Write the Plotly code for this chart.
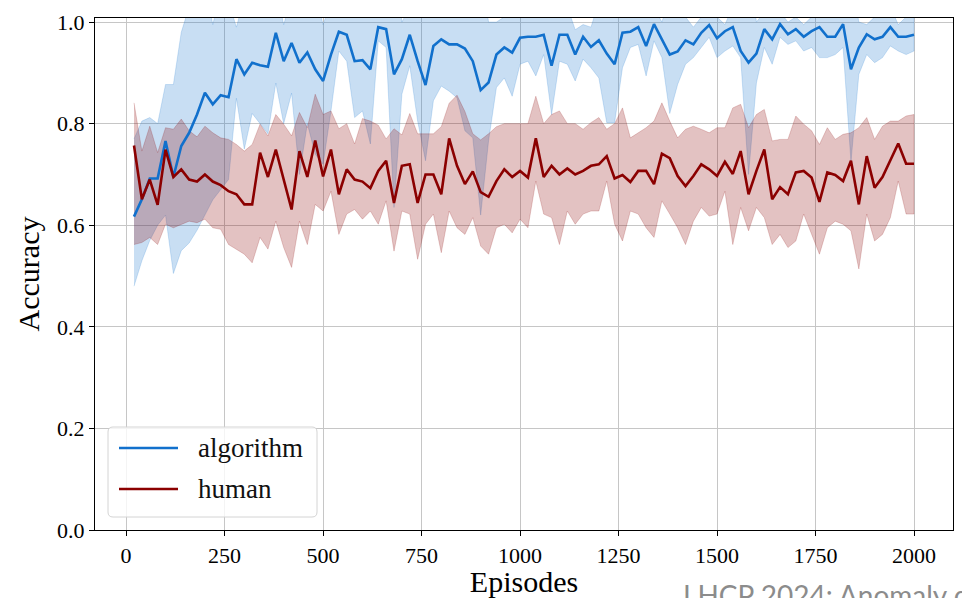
import plotly.graph_objects as go

# Training episodes (evaluated every 20 episodes)
episodes = list(range(20, 2001, 20))

# Mean accuracy of the learned algorithm
algorithm_mean = [
    0.617, 0.651, 0.692, 0.692, 0.766, 0.695, 0.756, 0.782, 0.818, 0.861,
    0.838, 0.856, 0.852, 0.927, 0.897, 0.920, 0.915, 0.912, 0.979, 0.923,
    0.959, 0.920, 0.940, 0.907, 0.884, 0.936, 0.981, 0.975, 0.923, 0.925,
    0.907, 0.990, 0.986, 0.897, 0.927, 0.975, 0.923, 0.876, 0.953, 0.966,
    0.956, 0.956, 0.948, 0.923, 0.866, 0.881, 0.936, 0.950, 0.940, 0.969,
    0.971, 0.971, 0.975, 0.914, 0.975, 0.975, 0.936, 0.971, 0.951, 0.964,
    0.938, 0.917, 0.979, 0.981, 0.990, 0.953, 0.996, 0.966, 0.936, 0.942,
    0.964, 0.956, 0.979, 0.994, 0.968, 0.982, 0.990, 0.943, 0.920, 0.938,
    0.986, 0.966, 0.996, 0.976, 0.986, 0.971, 0.982, 0.990, 0.971, 0.971,
    0.996, 0.907, 0.950, 0.976, 0.966, 0.971, 0.990, 0.971, 0.971, 0.975,
]
algorithm_low = [
    0.480, 0.530, 0.570, 0.600, 0.620, 0.505, 0.550, 0.565, 0.590, 0.620,
    0.650, 0.670, 0.690, 0.850, 0.750, 0.820, 0.800, 0.780, 0.880, 0.800,
    0.860, 0.700, 0.800, 0.740, 0.720, 0.825, 0.943, 0.923, 0.812, 0.825,
    0.760, 0.963, 0.950, 0.635, 0.858, 0.914, 0.805, 0.727, 0.845, 0.874,
    0.864, 0.851, 0.786, 0.772, 0.620, 0.766, 0.871, 0.890, 0.854, 0.917,
    0.923, 0.894, 0.936, 0.818, 0.923, 0.917, 0.884, 0.927, 0.910, 0.890,
    0.802, 0.802, 0.910, 0.950, 0.956, 0.894, 0.963, 0.930, 0.820, 0.877,
    0.917, 0.930, 0.950, 0.970, 0.930, 0.943, 0.953, 0.930, 0.700, 0.880,
    0.950, 0.917, 0.970, 0.956, 0.963, 0.943, 0.950, 0.930, 0.930, 0.936,
    0.950, 0.725, 0.897, 0.936, 0.920, 0.930, 0.953, 0.943, 0.936, 0.943,
]
algorithm_high = [
    0.770, 0.805, 0.812, 0.800, 0.877, 0.877, 0.980, 1.030, 1.050, 1.080,
    0.995, 1.060, 1.040, 0.990, 1.050, 1.030, 1.040, 1.050, 1.070, 0.995,
    1.050, 1.090, 1.070, 1.060, 0.995, 1.040, 1.020, 1.030, 1.030, 1.025,
    1.050, 1.020, 1.020, 1.150, 1.000, 1.030, 1.040, 1.030, 1.060, 1.060,
    1.050, 1.060, 1.110, 1.070, 1.110, 1.000, 1.000, 1.010, 1.030, 1.020,
    1.020, 1.050, 1.010, 1.010, 1.030, 1.030, 0.985, 0.995, 0.990, 1.040,
    1.070, 1.030, 1.050, 1.010, 1.020, 1.010, 1.030, 1.000, 1.050, 1.010,
    1.010, 0.990, 1.010, 1.020, 1.010, 0.995, 1.030, 1.020, 1.140, 1.000,
    1.020, 1.020, 1.020, 1.000, 1.010, 0.995, 1.010, 1.050, 1.010, 1.010,
    1.040, 1.090, 1.000, 0.995, 1.010, 1.010, 1.030, 0.995, 1.010, 1.010,
]

# Mean accuracy of the human baseline
human_mean = [
    0.757, 0.651, 0.690, 0.640, 0.749, 0.695, 0.710, 0.690, 0.686, 0.700,
    0.686, 0.679, 0.667, 0.661, 0.641, 0.641, 0.743, 0.695, 0.749, 0.687,
    0.631, 0.746, 0.695, 0.767, 0.696, 0.749, 0.661, 0.710, 0.690, 0.686,
    0.673, 0.707, 0.727, 0.644, 0.717, 0.720, 0.644, 0.700, 0.700, 0.661,
    0.771, 0.717, 0.681, 0.706, 0.665, 0.656, 0.687, 0.710, 0.695, 0.707,
    0.694, 0.771, 0.695, 0.717, 0.700, 0.712, 0.700, 0.707, 0.717, 0.720,
    0.736, 0.692, 0.699, 0.685, 0.707, 0.707, 0.681, 0.741, 0.732, 0.697,
    0.677, 0.697, 0.720, 0.710, 0.697, 0.725, 0.701, 0.746, 0.661, 0.707,
    0.749, 0.651, 0.675, 0.661, 0.704, 0.707, 0.694, 0.646, 0.704, 0.699,
    0.687, 0.727, 0.641, 0.736, 0.674, 0.695, 0.727, 0.761, 0.721, 0.721,
]
human_low = [
    0.562, 0.566, 0.576, 0.562, 0.602, 0.595, 0.602, 0.608, 0.605, 0.612,
    0.595, 0.592, 0.562, 0.553, 0.543, 0.526, 0.576, 0.553, 0.608, 0.556,
    0.517, 0.608, 0.562, 0.641, 0.628, 0.667, 0.582, 0.622, 0.631, 0.612,
    0.628, 0.602, 0.648, 0.549, 0.628, 0.622, 0.533, 0.602, 0.622, 0.546,
    0.628, 0.595, 0.582, 0.615, 0.559, 0.543, 0.595, 0.602, 0.585, 0.612,
    0.595, 0.687, 0.622, 0.615, 0.562, 0.628, 0.602, 0.622, 0.628, 0.628,
    0.687, 0.602, 0.569, 0.628, 0.622, 0.595, 0.576, 0.648, 0.622, 0.595,
    0.562, 0.608, 0.635, 0.618, 0.622, 0.667, 0.562, 0.635, 0.589, 0.635,
    0.615, 0.562, 0.582, 0.556, 0.569, 0.622, 0.582, 0.543, 0.595, 0.608,
    0.602, 0.589, 0.514, 0.622, 0.569, 0.582, 0.615, 0.687, 0.622, 0.622,
]
human_high = [
    0.841, 0.746, 0.795, 0.743, 0.792, 0.789, 0.809, 0.786, 0.774, 0.795,
    0.782, 0.772, 0.769, 0.759, 0.746, 0.759, 0.799, 0.776, 0.818, 0.799,
    0.776, 0.822, 0.792, 0.858, 0.818, 0.825, 0.790, 0.800, 0.760, 0.810,
    0.805, 0.797, 0.770, 0.790, 0.778, 0.820, 0.780, 0.780, 0.780, 0.794,
    0.840, 0.856, 0.824, 0.780, 0.768, 0.780, 0.794, 0.800, 0.800, 0.800,
    0.800, 0.854, 0.800, 0.818, 0.825, 0.800, 0.800, 0.789, 0.802, 0.812,
    0.789, 0.800, 0.831, 0.772, 0.782, 0.792, 0.805, 0.841, 0.805, 0.772,
    0.789, 0.795, 0.789, 0.782, 0.792, 0.792, 0.831, 0.838, 0.792, 0.818,
    0.828, 0.766, 0.769, 0.769, 0.815, 0.799, 0.786, 0.759, 0.792, 0.769,
    0.779, 0.782, 0.792, 0.812, 0.769, 0.795, 0.805, 0.805, 0.815, 0.818,
]

x_ticks = [0, 250, 500, 750, 1000, 1250, 1500, 1750, 2000]
y_ticks = [0.0, 0.2, 0.4, 0.6, 0.8, 1.0]

series = [
    ("algorithm", algorithm_mean, algorithm_low, algorithm_high, "#1170cc", "rgba(17,112,204,0.23)"),
    ("human", human_mean, human_low, human_high, "#8b0000", "rgba(139,0,0,0.24)"),
]

W, H = 962, 598
M = dict(l=95, r=9, t=18, b=68)
SERIF = "Liberation Serif, Times New Roman, serif"


def px_x(p):
    return (p - M["l"]) / (W - M["l"] - M["r"])


def px_y(p):
    return (H - M["b"] - p) / (H - M["t"] - M["b"])


fig = go.Figure()

# shaded spread bands
for name, mean, low, high, line_c, fill_c in series:
    fig.add_trace(go.Scatter(
        x=episodes + episodes[::-1],
        y=high + low[::-1],
        fill="toself",
        fillcolor=fill_c,
        line=dict(color=fill_c, width=0.8),
        mode="lines",
        hoverinfo="skip",
        showlegend=False,
    ))

# mean curves
for name, mean, low, high, line_c, fill_c in series:
    fig.add_trace(go.Scatter(
        x=episodes, y=mean, mode="lines", name=name,
        line=dict(color=line_c, width=2.6),
        showlegend=False,
    ))

# legend box drawn in the lower-left corner
bx0, bx1, by0, by1, r = 108, 317, 427, 517, 5
rx = r / (W - M["l"] - M["r"])
ry = r / (H - M["t"] - M["b"])
X0, X1, Y0, Y1 = px_x(bx0), px_x(bx1), px_y(by1), px_y(by0)
box_path = (
    f"M{X0 + rx},{Y0} L{X1 - rx},{Y0} Q{X1},{Y0} {X1},{Y0 + ry} "
    f"L{X1},{Y1 - ry} Q{X1},{Y1} {X1 - rx},{Y1} "
    f"L{X0 + rx},{Y1} Q{X0},{Y1} {X0},{Y1 - ry} "
    f"L{X0},{Y0 + ry} Q{X0},{Y0} {X0 + rx},{Y0} Z"
)
shapes = [dict(type="path", path=box_path, xref="paper", yref="paper",
               fillcolor="rgba(255,255,255,0.8)", line=dict(color="#d4d4d4", width=1),
               layer="above")]
annotations = []
for i, (name, mean, low, high, line_c, fill_c) in enumerate(series):
    yy = 448 + 41 * i
    shapes.append(dict(type="line", xref="paper", yref="paper",
                       x0=px_x(119), x1=px_x(178), y0=px_y(yy), y1=px_y(yy),
                       line=dict(color=line_c, width=2.6), layer="above"))
    annotations.append(dict(text=name, xref="paper", yref="paper",
                            x=px_x(196), y=px_y(yy), xanchor="left", yanchor="middle",
                            showarrow=False, font=dict(family=SERIF, size=27, color="#111")))

# slide footer
annotations.append(dict(text="LHCP 2024: Anomaly detection", xref="paper", yref="paper",
                        x=px_x(681), y=px_y(576), xanchor="left", yanchor="top",
                        showarrow=False,
                        font=dict(family="Lato, Open Sans, sans-serif", size=28, color="#8c8c8c")))

axis_common = dict(
    showgrid=True, gridcolor="#c6c6c6", gridwidth=1,
    showline=True, linecolor="black", linewidth=1.2, mirror=True,
    ticks="outside", ticklen=5, tickcolor="black", tickwidth=1,
    tickfont=dict(family=SERIF, size=22, color="black"),
    zeroline=False, automargin=False,
)

fig.update_layout(
    width=W, height=H,
    margin=dict(M, autoexpand=False),
    paper_bgcolor="white", plot_bgcolor="white",
    font=dict(family=SERIF, color="black"),
    xaxis=dict(range=[-79, 2099], tickvals=x_ticks,
               title=dict(text="Episodes", font=dict(family=SERIF, size=30), standoff=5),
               **axis_common),
    yaxis=dict(range=[0, 1.008], tickvals=y_ticks, tickformat=".1f",
               title=dict(text="Accuracy", font=dict(family=SERIF, size=30), standoff=8),
               **axis_common),
    shapes=shapes,
    annotations=annotations,
    showlegend=False,
)

fig.write_html("out.html")
